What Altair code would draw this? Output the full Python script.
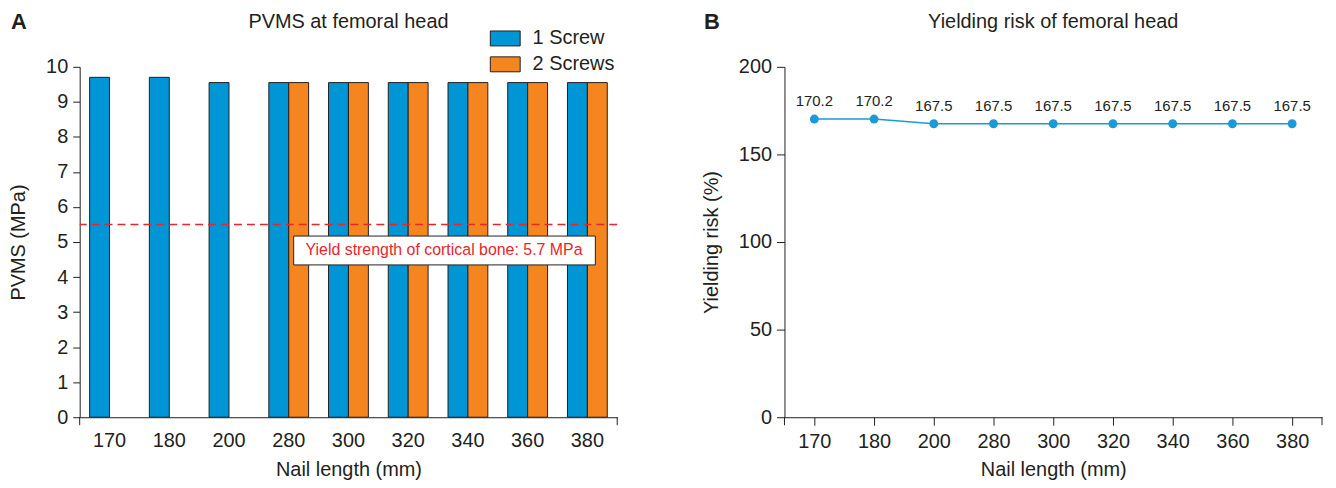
import altair as alt
import pandas as pd

# ---------------- data ----------------
lengths = ["170", "180", "200", "280", "300", "320", "340", "360", "380"]
groups = ["1 Screw", "2 Screws"]
one_screw = [9.70, 9.70, 9.55, 9.55, 9.55, 9.55, 9.55, 9.55, 9.55]
two_screws = [None, None, None, 9.55, 9.55, 9.55, 9.55, 9.55, 9.55]
yield_line_mpa = [5.5]
yield_label = ["Yield strength of cortical bone: 5.7 MPa"]
risk = [170.2, 170.2, 167.5, 167.5, 167.5, 167.5, 167.5, 167.5, 167.5]
pvms_ticks = list(range(0, 11))
risk_ticks = [0, 50, 100, 150, 200]

rows = []
for L, a, b in zip(lengths, one_screw, two_screws):
    rows.append({"length": L, "group": groups[0], "pvms": a})
    if b is not None:
        rows.append({"length": L, "group": groups[1], "pvms": b})
bar_df = pd.DataFrame(rows)
risk_df = pd.DataFrame({"length": lengths, "risk": risk})
risk_df["label"] = [f"{v:.1f}" for v in risk]

# ---------------- style ----------------
FONT = "Liberation Sans"
DARK = "#231f20"
BLUE = "#0096d6"
ORANGE = "#f5861f"
LBLUE = "#1b9ad7"
RED = "#e8262b"
W, H = 540, 352
FS = 20

one = pd.DataFrame({"k": [0]})


def edge_tick(xpos):
    return alt.Chart(one).mark_rule(color=DARK, strokeWidth=1).encode(
        x=alt.value(xpos), y=alt.value(H), y2=alt.value(H + 8)
    )


def top_text(txt, xpos, size, weight="normal"):
    return alt.Chart(pd.DataFrame({"t": [txt]})).mark_text(
        fontSize=size, fontWeight=weight, color=DARK, baseline="middle", align="center", font=FONT
    ).encode(text="t:N", x=alt.value(xpos), y=alt.value(-45))


# ---------------- panel A ----------------
pvms_scale = alt.Scale(domain=[0, 10], nice=False)
pvms_axis = alt.Axis(title="PVMS (MPa)", values=pvms_ticks, tickSize=7,
                     labelPadding=5, titlePadding=17, labelOverlap=False)
rect_path = "M-1,-0.5L1,-0.5L1,0.5L-1,0.5Z"
bars = alt.Chart(bar_df).mark_bar(stroke=DARK, strokeWidth=1).encode(
    x=alt.X(
        "length:N", sort=lengths,
        scale=alt.Scale(paddingInner=1 / 3, paddingOuter=1 / 6),
        axis=alt.Axis(title="Nail length (mm)", labelAngle=0, ticks=False, tickSize=0,
                      labelPadding=13, titlePadding=10),
    ),
    xOffset=alt.XOffset("group:N", sort=groups,
                        scale=alt.Scale(domain=groups, paddingInner=0, paddingOuter=0)),
    y=alt.Y("pvms:Q", scale=pvms_scale, axis=pvms_axis),
    color=alt.Color(
        "group:N", sort=groups,
        scale=alt.Scale(domain=groups, range=[BLUE, ORANGE]),
        legend=alt.Legend(
            title=None, orient="none", legendX=412, legendY=-44,
            symbolType=rect_path, symbolSize=900, symbolStrokeColor=DARK,
            symbolStrokeWidth=1, symbolOpacity=1, labelFontSize=FS, labelFont=FONT,
            labelColor=DARK, labelOffset=12, rowPadding=-3, padding=0,
        ),
    ),
)

yline = alt.Chart(pd.DataFrame({"y": yield_line_mpa})).mark_rule(
    color=RED, strokeDash=[8, 5], strokeWidth=1.5
).encode(y=alt.Y("y:Q", scale=pvms_scale, axis=pvms_axis))

lab_df = pd.DataFrame({"t": yield_label})
box = alt.Chart(lab_df).mark_rect(fill="white", stroke=DARK, strokeWidth=1).encode(
    x=alt.value(215), x2=alt.value(518), y=alt.value(170), y2=alt.value(199)
)
box_text = alt.Chart(lab_df).mark_text(
    color=RED, fontSize=16, font=FONT, baseline="middle", align="center"
).encode(text="t:N", x=alt.value(366), y=alt.value(184.5))

left = alt.layer(
    bars, yline, box, box_text,
    edge_tick(0), edge_tick(W),
    top_text("PVMS at femoral head", W / 2, FS),
    top_text("A", -61, 22, "bold"),
).properties(width=W, height=H)

# ---------------- panel B ----------------
xb = alt.X(
    "length:N", sort=lengths, scale=alt.Scale(type="point", padding=0.5),
    axis=alt.Axis(title="Nail length (mm)", labelAngle=0, ticks=True, tickSize=8,
                  labelPadding=6, titlePadding=9),
)
yb = alt.Y(
    "risk:Q", scale=alt.Scale(domain=[0, 200], nice=False),
    axis=alt.Axis(title="Yielding risk (%)", values=risk_ticks, tickSize=8,
                  labelPadding=5, titlePadding=17),
)
base_b = alt.Chart(risk_df).encode(x=xb, y=yb)
line = base_b.mark_line(color=LBLUE, strokeWidth=1.5)
pts = base_b.mark_point(filled=True, size=80, color=LBLUE, opacity=1)
lbls = base_b.mark_text(
    dy=-10, baseline="bottom", fontSize=15, color=DARK, font=FONT
).encode(text="label:N")

right = alt.layer(
    line, pts, lbls,
    edge_tick(0), edge_tick(W),
    top_text("Yielding risk of femoral head", W / 2, FS),
    top_text("B", -73, 22, "bold"),
).properties(width=W, height=H)

chart = alt.hconcat(left, right, spacing=83).properties(
    padding={"left": 0, "top": 2, "right": 5, "bottom": 5}
).configure_view(stroke=None).configure_axis(
    labelFont=FONT, titleFont=FONT, labelFontSize=FS, titleFontSize=FS,
    labelColor=DARK, titleColor=DARK, titleFontWeight="normal",
    domainColor=DARK, tickColor=DARK, domainWidth=1, tickWidth=1, grid=False,
).configure_text(font=FONT)

chart.save("out.html", embed_options={"renderer": "svg", "actions": False})
